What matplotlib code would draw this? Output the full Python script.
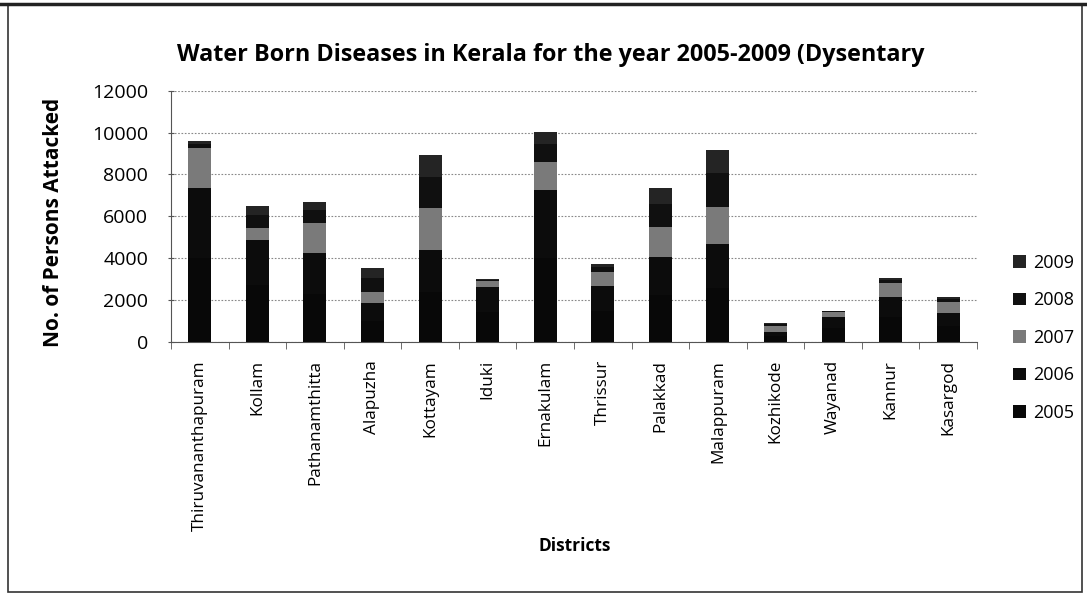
import matplotlib.pyplot as plt
import numpy as np
from matplotlib.patches import Rectangle

districts = ["Thiruvananthapuram", "Kollam", "Pathanamthitta", "Alapuzha", "Kottayam",
             "Iduki", "Ernakulam", "Thrissur", "Palakkad", "Malappuram",
             "Kozhikode", "Wayanad", "Kannur", "Kasargod"]
years = ["2005", "2006", "2007", "2008", "2009"]

cases_2005 = [4000, 2700, 2300, 1000, 2400, 1450, 4000, 1480, 2240, 2570, 280, 670, 1190, 750]
cases_2006 = [3340, 2170, 1940, 850, 1990, 1190, 3260, 1210, 1830, 2110, 220, 540, 970, 620]
cases_2007 = [1900, 560, 1430, 550, 1990, 250, 1350, 670, 1440, 1780, 250, 240, 640, 550]
cases_2008 = [200, 640, 620, 670, 1500, 60, 850, 210, 1100, 1630, 100, 30, 140, 130]
cases_2009 = [160, 430, 410, 450, 1050, 40, 580, 140, 730, 1080, 70, 20, 100, 80]

series = [cases_2005, cases_2006, cases_2007, cases_2008, cases_2009]
colors = ["#080808", "#0c0c0c", "#7a7a7a", "#101010", "#242424"]

plt.rcParams['font.family'] = ['Open Sans', 'DejaVu Sans']

fig = plt.figure(figsize=(10.87, 5.97), dpi=100)
ax = fig.add_axes([0.1573, 0.4271, 0.7415, 0.421])

x = np.arange(len(districts))
bottom = np.zeros(len(districts))
handles = []
for vals, col, yr in zip(series, colors, years):
    b = ax.bar(x, vals, width=0.4, bottom=bottom, color=col, label=yr, zorder=3)
    handles.append(b)
    bottom += np.array(vals)

ax.set_xlim(-0.5, len(districts) - 0.5)
ax.set_ylim(0, 12000)
ax.set_yticks(range(0, 12001, 2000))
ax.yaxis.grid(True, color="#888888", linestyle=(0, (1.5, 1.5)), linewidth=0.8, zorder=0)

ax.set_xticks(x)
ax.set_xticklabels(districts, rotation=90, fontsize=12.3)
ax.set_xticks(np.arange(-0.5, len(districts), 1), minor=True)
ax.tick_params(axis='x', which='major', length=0, pad=13)
ax.tick_params(axis='x', which='minor', length=5, direction='out', color="#555555")
ax.tick_params(axis='y', length=5, direction='inout', labelsize=14, color="#555555", pad=14)

for s in ["top", "right"]:
    ax.spines[s].set_visible(False)
ax.spines["left"].set_color("#555555")
ax.spines["bottom"].set_color("#555555")

fig.text(54 / 1087, 1 - 222 / 597, "No. of Persons Attacked", fontsize=15, fontweight="bold",
         rotation=90, ha="center", va="center")
fig.text(0.529, 1 - 546 / 597, "Districts", fontsize=12.5, fontweight="bold", ha="center", va="center")
fig.text(0.507, 1 - 55 / 597, "Water Born Diseases in Kerala for the year 2005-2009 (Dysentary",
         fontsize=16.8, fontweight="bold", ha="center", va="center")

leg = fig.legend(handles[::-1], years[::-1], loc="center left", bbox_to_anchor=(0.917, 0.434),
                 frameon=False, fontsize=13, handlelength=0.7, handleheight=0.7,
                 labelspacing=1.08, handletextpad=0.4)

# outer chart border
fig.patches.append(Rectangle((0.007, 0.008), 0.988, 0.986, transform=fig.transFigure,
                             fill=False, edgecolor="#333333", linewidth=1.2))
fig.add_artist(plt.Line2D([0.0, 1.0], [0.994, 0.994], transform=fig.transFigure,
                          color="#222222", linewidth=2.5))

fig.savefig("out.png", dpi=100)
